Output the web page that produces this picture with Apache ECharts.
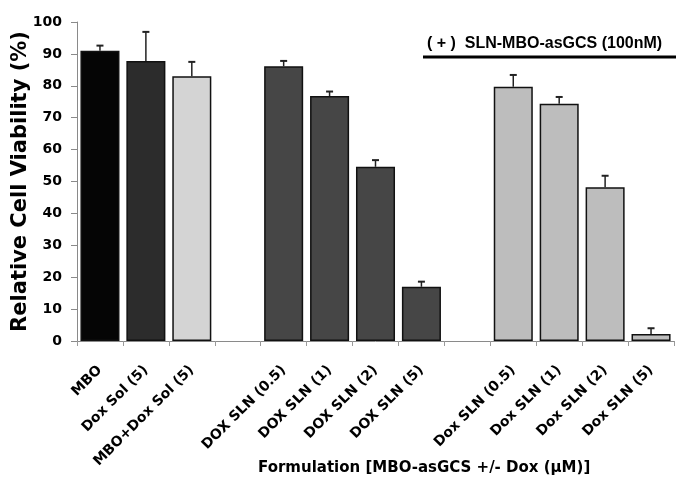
<!DOCTYPE html>
<html>
<head>
<meta charset="utf-8">
<script src="https://cdn.jsdelivr.net/npm/echarts@6/dist/echarts.min.js"></script>
<style>html,body{margin:0;padding:0;background:#fff}#c{width:676px;height:480px}</style>
</head>
<body>
<div id="c"></div>
<script>
var categories = ['MBO','Dox Sol (5)','MBO+Dox Sol (5)',' ','DOX SLN (0.5)','DOX SLN (1)','DOX SLN (2)','DOX SLN (5)','  ','Dox SLN (0.5)','Dox SLN (1)','Dox SLN (2)','Dox SLN (5)'];
var viability = [91.0, 87.8, 83.0, null, 86.1, 76.8, 54.6, 17.0, null, 79.7, 74.4, 48.2, 2.2];
var errors = [1.6, 9.1, 4.5, null, 1.7, 1.4, 2.1, 1.6, null, 3.7, 2.1, 3.6, 1.8];
var yTicks = [0,10,20,30,40,50,60,70,80,90,100];
var barColors = ['#050505','#2c2c2c','#d4d4d4',null,'#464646','#464646','#464646','#464646',null,'#bdbdbd','#bdbdbd','#bdbdbd','#bdbdbd'];

var chart = echarts.init(document.getElementById('c'));
var barData = viability.map(function(v,i){
  return {value: v, itemStyle: {color: barColors[i] || '#000'}};
});
var errData = [];
viability.forEach(function(v,i){ if (v !== null) errData.push([i, v, errors[i]]); });
var heavy = 'DejaVu Sans, Arial, sans-serif';
chart.setOption({
  animation: false,
  grid: {left: 77, right: 2, top: 22, bottom: 139, containLabel: false, outerBoundsMode: 'none'},
  xAxis: {
    type: 'category', data: categories,
    axisLine: {lineStyle: {color: '#8a8a8a', width: 1}},
    axisTick: {show: true, interval: 0, length: 5, lineStyle: {color: '#9a9a9a'}},
    axisLabel: {interval: 0, rotate: 45, margin: 27, color: '#000', fontFamily: heavy, fontWeight: 'bold', fontSize: 14}
  },
  yAxis: {
    type: 'value', min: yTicks[0], max: yTicks[yTicks.length-1], interval: 10,
    splitLine: {show: false},
    axisLine: {show: true, lineStyle: {color: '#8a8a8a'}},
    axisTick: {show: true, length: 6, lineStyle: {color: '#8a8a8a'}},
    axisLabel: {margin: 15, color: '#000', fontFamily: heavy, fontWeight: 'bold', fontSize: 14},
    name: 'Relative Cell Viability (%)', nameLocation: 'middle', nameGap: 46, nameMoveOverlap: false,
    nameTextStyle: {color: '#000', fontFamily: heavy, fontWeight: 'bold', fontSize: 21}
  },
  series: [{
    type: 'bar', data: barData, barCategoryGap: '15%',
    itemStyle: {borderColor: '#111', borderWidth: 1.5}
  },{
    type: 'custom', data: errData,
    encode: {x: 0, y: 1},
    z: 3,
    renderItem: function(params, api){
      var i = api.value(0), v = api.value(1), e = api.value(2);
      var p0 = api.coord([i, v]);
      var p1 = api.coord([i, v + e]);
      var hw = 3.5;
      return {type: 'group', children: [
        {type: 'line', shape: {x1: p0[0], y1: p0[1], x2: p1[0], y2: p1[1]}, style: {stroke: '#222', lineWidth: 1.5}},
        {type: 'line', shape: {x1: p1[0]-hw, y1: p1[1], x2: p1[0]+hw, y2: p1[1]}, style: {stroke: '#222', lineWidth: 2}}
      ]};
    }
  }],
  graphic: [
    {type: 'text', left: 427, top: 36, style: {text: '( + )  SLN-MBO-asGCS (100nM)', fill: '#000', font: 'bold 16px Liberation Sans, Arial, sans-serif'}},
    {type: 'line', shape: {x1: 423, y1: 57, x2: 676, y2: 57}, style: {stroke: '#000', lineWidth: 3}},
    {type: 'text', left: 258, top: 461, style: {text: 'Formulation [MBO-asGCS +/- Dox (\u03bcM)]', fill: '#000', font: 'bold 15px DejaVu Sans, Arial, sans-serif'}}
  ]
});
</script>
</body>
</html>
